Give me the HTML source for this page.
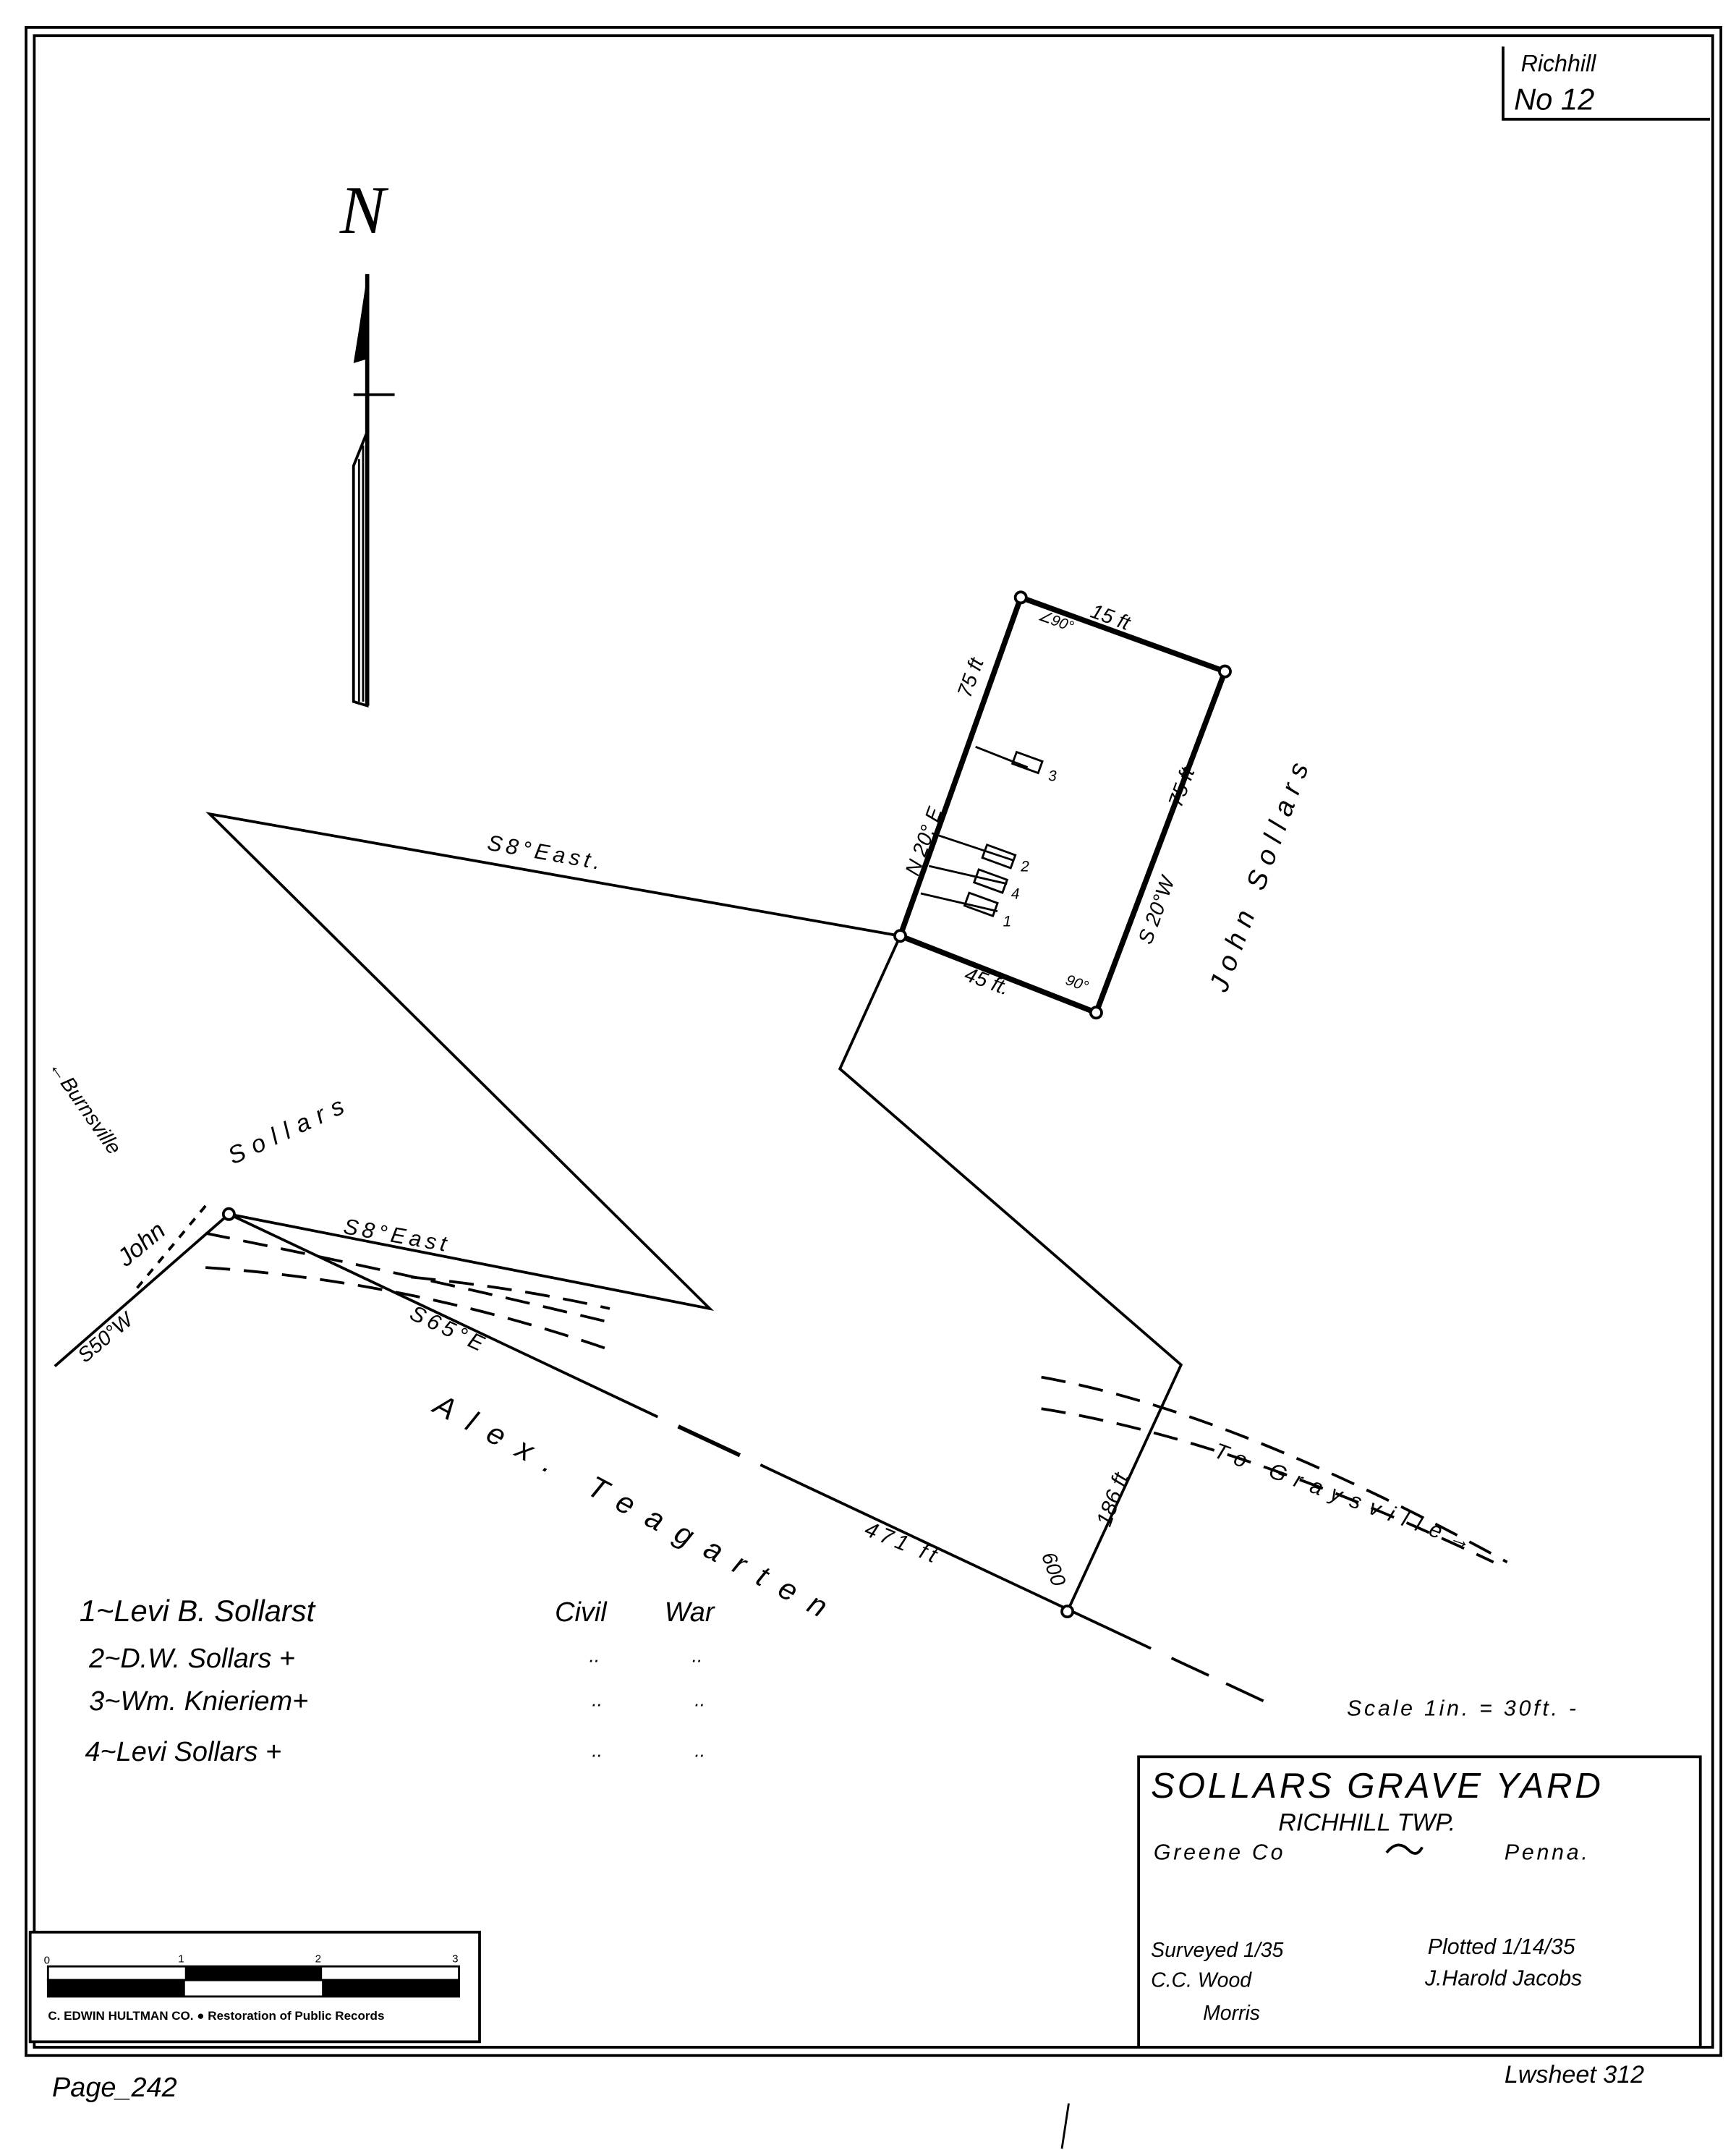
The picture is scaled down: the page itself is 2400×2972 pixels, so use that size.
<!DOCTYPE html>
<html><head><meta charset="utf-8"><style>
html,body{margin:0;padding:0;background:#fff;}
svg{display:block;}
text{font-family:"Liberation Sans",sans-serif;font-style:italic;fill:#000;}
</style></head><body>
<svg width="2400" height="2972" viewBox="0 0 1267 1569" xmlns="http://www.w3.org/2000/svg">
<rect width="1267" height="1569" fill="#fff"/>
<rect x="19" y="20" width="1237" height="1480" fill="none" stroke="#000" stroke-width="2"/>
<rect x="25" y="26" width="1225" height="1468" fill="none" stroke="#000" stroke-width="2"/>
<polyline points="1097,34 1097,87 1248,87" fill="none" stroke="#000" stroke-width="2"/>
<text x="1110" y="52" font-size="17">Richhill</text>
<text x="1105" y="80" font-size="22">No  12</text>
<text x="248" y="170" font-size="50" style="font-family:'Liberation Serif',serif">N</text>
<line x1="268" y1="200" x2="268" y2="515" stroke="#000" stroke-width="3"/>
<polygon points="268,200 262,240 258,265 268,262" fill="#000"/>
<line x1="258" y1="288" x2="288" y2="288" stroke="#000" stroke-width="2"/>
<polygon points="258,340 268,315 268,515 258,512" fill="none" stroke="#000" stroke-width="2"/>
<line x1="262" y1="335" x2="262" y2="512" stroke="#000" stroke-width="1.5"/>
<line x1="265" y1="325" x2="265" y2="512" stroke="#000" stroke-width="1.5"/>
<g stroke="#000" stroke-width="2" fill="none">
<polyline points="657,683 153,594 518,955 167,886"/>
<polyline points="657,683 613,780 862,996 779,1176"/>
<line x1="167" y1="886" x2="40" y2="997"/>
<polyline points="167,886 480,1034"/>
<line x1="495" y1="1041" x2="540" y2="1062" stroke-width="3"/>
<line x1="555" y1="1069" x2="840" y2="1203"/>
<line x1="855" y1="1210" x2="930" y2="1245" stroke-dasharray="30,14"/>
<path d="M150,900 Q300,930 445,965" stroke-dasharray="18,10"/>
<path d="M150,925 Q300,935 445,985" stroke-dasharray="18,10"/>
<path d="M300,932 Q380,940 445,955" stroke-dasharray="18,10"/>
<path d="M760,1005 Q900,1030 1100,1140" stroke-dasharray="18,10"/>
<path d="M760,1028 Q900,1050 1090,1140" stroke-dasharray="18,10"/>
<path d="M150,880 L100,940" stroke-dasharray="6,6"/>
</g>
<g stroke="#000" stroke-width="4" fill="none">
<polyline points="745,436 894,490 800,739 657,683 745,436"/>
</g>
<g stroke="#000" stroke-width="1.5" fill="none">
<line x1="680" y1="608" x2="740" y2="628"/>
<line x1="678" y1="632" x2="735" y2="645"/>
<line x1="672" y1="652" x2="728" y2="665"/>
<line x1="712" y1="545" x2="750" y2="560"/>
<rect x="718" y="620" width="22" height="10" transform="rotate(20 729 625)"/>
<rect x="712" y="638" width="22" height="10" transform="rotate(20 723 643)"/>
<rect x="705" y="655" width="22" height="10" transform="rotate(20 716 660)"/>
<rect x="740" y="552" width="20" height="9" transform="rotate(20 750 556)"/>
</g>
<g fill="#fff" stroke="#000" stroke-width="2">
<circle cx="745" cy="436" r="4"/><circle cx="894" cy="490" r="4"/>
<circle cx="800" cy="739" r="4"/><circle cx="657" cy="683" r="4"/>
<circle cx="167" cy="886" r="4"/><circle cx="779" cy="1176" r="4"/>
</g>
<text font-size="15" transform="translate(795,450) rotate(20)">15 ft</text>
<text font-size="11" transform="translate(757,452) rotate(20)">∠90°</text>
<text font-size="15" transform="translate(708,510) rotate(-70)">75 ft</text>
<text font-size="15" transform="translate(670,640) rotate(-70)">N 20° E</text>
<text font-size="15" transform="translate(862,590) rotate(-70)">75 ft</text>
<text font-size="15" transform="translate(840,690) rotate(-70)">S 20°W</text>
<text font-size="15" transform="translate(703,715) rotate(20)">45 ft.</text>
<text font-size="11" transform="translate(777,718) rotate(20)">90°</text>
<text font-size="11" x="765" y="570">3</text><text font-size="11" x="745" y="636">2</text>
<text font-size="11" x="738" y="656">4</text><text font-size="11" x="732" y="676">1</text>
<text font-size="20" transform="translate(895,725) rotate(-70)" letter-spacing="6">John  Sollars</text>
<text font-size="16" transform="translate(355,620) rotate(10)" letter-spacing="3">S8°East.</text>
<text font-size="16" transform="translate(250,900) rotate(10)" letter-spacing="3">S8°East</text>
<text font-size="16" transform="translate(298,962) rotate(25)" letter-spacing="3">S65°E</text>
<text font-size="15" transform="translate(62,995) rotate(-40)">S50°W</text>
<text font-size="18" transform="translate(92,925) rotate(-40)">John</text>
<text font-size="18" transform="translate(170,850) rotate(-25)" letter-spacing="6">Sollars</text>
<text font-size="15" transform="translate(35,778) rotate(55)">←Burnsville</text>
<text font-size="22" transform="translate(315,1030) rotate(28)" letter-spacing="12">Alex.    Teagarten</text>
<text font-size="16" transform="translate(630,1120) rotate(22)" letter-spacing="3">471 ft</text>
<text font-size="15" transform="translate(760,1135) rotate(70)">600</text>
<text font-size="16" transform="translate(810,1115) rotate(-70)">186 ft</text>
<text font-size="16" transform="translate(885,1063) rotate(20)" letter-spacing="7">To Graysville→</text>
<text font-size="22" x="58" y="1183">1~Levi B. Sollarst</text>
<text font-size="20" x="65" y="1217">2~D.W. Sollars +</text>
<text font-size="20" x="65" y="1248">3~Wm. Knieriem+</text>
<text font-size="20" x="62" y="1285">4~Levi Sollars +</text>
<text font-size="20" x="405" y="1183">Civil</text><text font-size="20" x="485" y="1183">War</text>
<text font-size="14" x="430" y="1213">..</text><text font-size="14" x="505" y="1213">..</text>
<text font-size="14" x="432" y="1245">..</text><text font-size="14" x="507" y="1245">..</text>
<text font-size="14" x="432" y="1282">..</text><text font-size="14" x="507" y="1282">..</text>
<text font-size="16" x="983" y="1252" letter-spacing="2">Scale 1in. = 30ft. -</text>
<polyline points="831,1494 831,1282 1241,1282 1241,1494" fill="none" stroke="#000" stroke-width="2"/>
<text font-size="26" x="840" y="1312" letter-spacing="2">SOLLARS GRAVE YARD</text>
<text font-size="18" x="933" y="1336">RICHHILL  TWP.</text>
<text font-size="16" x="842" y="1357" letter-spacing="2">Greene Co</text>
<path d="M1012,1352 q8,-10 16,-2 q6,6 10,-2" fill="none" stroke="#000" stroke-width="2"/>
<text font-size="16" x="1098" y="1357" letter-spacing="2">Penna.</text>
<text font-size="15" x="840" y="1428">Surveyed 1/35</text>
<text font-size="15" x="840" y="1450">C.C. Wood</text>
<text font-size="15" x="878" y="1474">Morris</text>
<text font-size="16" x="1042" y="1426">Plotted 1/14/35</text>
<text font-size="16" x="1040" y="1449">J.Harold Jacobs</text>
<rect x="22" y="1410" width="328" height="80" fill="#fff" stroke="#000" stroke-width="2"/>
<rect x="35" y="1435" width="300" height="10" fill="none" stroke="#000" stroke-width="1.5"/>
<rect x="35" y="1445" width="300" height="12" fill="none" stroke="#000" stroke-width="1.5"/>
<rect x="135" y="1435" width="100" height="10" fill="#000"/>
<rect x="35" y="1445" width="100" height="12" fill="#000"/>
<rect x="235" y="1445" width="100" height="12" fill="#000"/>
<text x="32" y="1433" font-size="8" style="font-style:normal">0</text>
<text x="130" y="1432" font-size="8" style="font-style:normal">1</text>
<text x="230" y="1432" font-size="8" style="font-style:normal">2</text>
<text x="330" y="1432" font-size="8" style="font-style:normal">3</text>
<text x="35" y="1474" font-size="9" style="font-style:normal;font-weight:bold">C. EDWIN HULTMAN CO. ● Restoration of Public Records</text>
<text font-size="20" x="38" y="1530">Page_242</text>
<text font-size="18" x="1098" y="1520">Lwsheet 312</text>
<line x1="780" y1="1535" x2="775" y2="1568" stroke="#000" stroke-width="1.5"/>
</svg>
</body></html>
